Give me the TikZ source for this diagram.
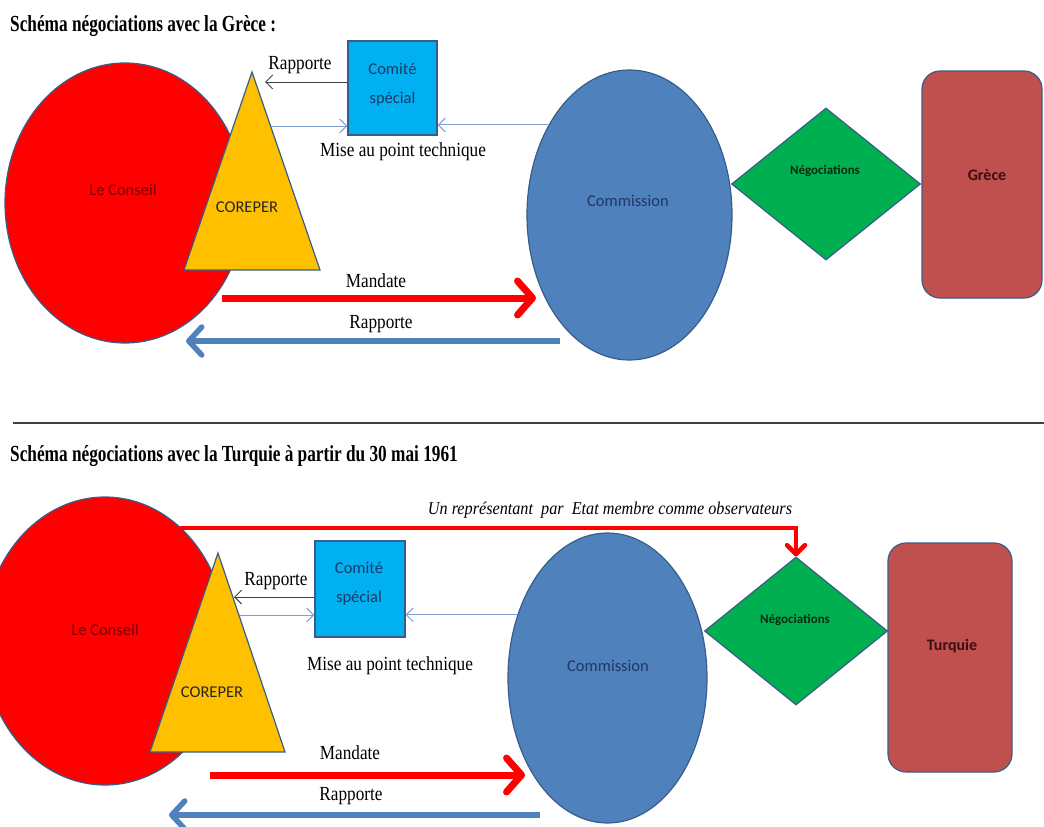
\documentclass[tikz,border=0pt]{standalone}
\usepackage{fontspec}
\setmainfont{Liberation Serif}
\newfontfamily\calfont{Carlito}
\usetikzlibrary{shapes.geometric,arrows.meta}
\definecolor{bordc}{HTML}{385D8A}
\definecolor{conred}{HTML}{FF0000}
\definecolor{corgold}{HTML}{FFC000}
\definecolor{csblue}{HTML}{00B0F0}
\definecolor{comblue}{HTML}{4F81BD}
\definecolor{neggreen}{HTML}{00B050}
\definecolor{paysred}{HTML}{C0504D}
\definecolor{thinblue}{HTML}{7F9FCF}
\definecolor{darkline}{HTML}{404040}
\definecolor{txtred}{HTML}{7A0000}
\definecolor{txtnavy}{HTML}{1F3864}
\definecolor{txtgreen}{HTML}{0A2A10}
\definecolor{txtbrown}{HTML}{3A1010}
\newcommand\sqz[1]{\scalebox{0.86}[1]{#1}}
\newcommand\sqzt[1]{\scalebox{0.75}[1]{#1}}
\begin{document}
\begin{tikzpicture}[x=1pt,y=-1pt,
  shp/.style={draw=bordc,line width=1.2pt},
  ctext/.style={font=\calfont\fontsize{16.5}{29}\selectfont,inner sep=0,align=center},
  lbl/.style={font=\fontsize{20}{24}\selectfont,inner sep=0},
  ttl/.style={font=\bfseries\fontsize{23}{27}\selectfont,inner sep=0,anchor=base west},
  thinarr/.style={line width=1pt,-{Straight Barb[length=7pt,width=14pt]}},
  redarr/.style={line width=7pt,conred,-{Straight Barb[length=15pt,width=34pt,round]}},
  bluearr/.style={line width=5.5pt,comblue,-{Straight Barb[length=13pt,width=28pt,round]}},
]
\useasboundingbox (0,0) rectangle (1044,827);
\clip (0,0) rectangle (1044,827);

% ================= TOP: Grece =================
\node[ttl] (t1) at (10,31) {\sqzt{Schéma négociations avec la Grèce :}};

\node[shp,ellipse,fill=conred,minimum width=240pt,minimum height=280pt,inner sep=0] (con1) at (125,203) {};
\node[ctext,text=txtred] (con1t) at (123,190) {Le Conseil};

\filldraw[shp,fill=corgold] (252,72) coordinate (cor1a) -- (184,270) coordinate (cor1b) -- (320,270) coordinate (cor1c) -- cycle;
\node[ctext,text=black!85] (cor1) at (247,207) {COREPER};

\node[shp,rectangle,fill=csblue,minimum width=89pt,minimum height=94pt,inner sep=0] (cs1) at (392.5,88) {};
\node[ctext,text=txtnavy] (cs1t) at (392.5,85) {Comité\\spécial};

\node[shp,ellipse,fill=comblue,minimum width=205pt,minimum height=290pt,inner sep=0] (com1) at (629.5,215) {};
\node[ctext,text=txtnavy] (com1t) at (628,201) {Commission};

\node[shp,diamond,fill=neggreen,minimum width=189pt,minimum height=152pt,inner sep=0] (neg1) at (826,184) {};
\node[ctext,text=txtgreen,font=\calfont\bfseries\fontsize{13}{15}\selectfont] (neg1t) at (825,171) {Négociations};

\node[shp,rectangle,rounded corners=18pt,fill=paysred,minimum width=120pt,minimum height=227pt,inner sep=0] (gr) at (982,184.5) {};
\node[ctext,text=txtbrown,font=\calfont\bfseries\fontsize{16}{18}\selectfont] (grt) at (987,175) {Grèce};

% connectors top
\coordinate (r1end) at (265,82);
\draw[thinarr,darkline] (cs1.west |- 0,82) -- (r1end);
\node[lbl] (r1l) at (300,65) {\sqz{Rapporte}};

\coordinate (m1a) at (271,126);
\draw[thinarr,thinblue] (m1a) -- (cs1.west |- m1a);
\draw[thinarr,thinblue] (com1.132) -- (com1.132 -| cs1.east);
\node[lbl] (m1l) at (403,152) {\sqz{Mise au point technique}};

\coordinate (man1a) at (222,298);
\draw[redarr] (man1a) -- (536,298);
\node[lbl] (man1l) at (376,281) {\sqz{Mandate}};

\coordinate (rap1a) at (560,341);
\coordinate (rap1b) at (186,341);
\draw[bluearr] (rap1a) -- (rap1b);
\node[lbl] (rap1l) at (381,324) {\sqz{Rapporte}};

% separator
\draw[line width=1.6pt,darkline] (13,423) coordinate (sepa) -- (1044,423) coordinate (sepb);

% ================= BOTTOM: Turquie =================
\node[ttl] (t2) at (10,461) {\sqzt{Schéma négociations avec la Turquie à partir du 30 mai 1961}};

\node[shp,ellipse,fill=conred,minimum width=244pt,minimum height=288pt,inner sep=0] (con2) at (105,641) {};
\node[ctext,text=txtred] (con2t) at (105,630) {Le Conseil};

\filldraw[shp,fill=corgold] (218,553) coordinate (cor2a) -- (150,752) coordinate (cor2b) -- (285,752) coordinate (cor2c) -- cycle;
\node[ctext,text=black!85] (cor2) at (212,692) {COREPER};

\node[shp,rectangle,fill=csblue,minimum width=90pt,minimum height=96pt,inner sep=0] (cs2) at (360,589) {};
\node[ctext,text=txtnavy] (cs2t) at (359,584) {Comité\\spécial};

\node[shp,ellipse,fill=comblue,minimum width=199pt,minimum height=290pt,inner sep=0] (com2) at (607.5,678) {};
\node[ctext,text=txtnavy] (com2t) at (608,666) {Commission};

\node[shp,diamond,fill=neggreen,minimum width=183pt,minimum height=148pt,inner sep=0] (neg2) at (796,631) {};
\node[ctext,text=txtgreen,font=\calfont\bfseries\fontsize{13}{15}\selectfont] (neg2t) at (795,620) {Négociations};

\node[shp,rectangle,rounded corners=18pt,fill=paysred,minimum width=124pt,minimum height=229pt,inner sep=0] (tu) at (950,657.5) {};
\node[ctext,text=txtbrown,font=\calfont\bfseries\fontsize{16}{18}\selectfont] (tut) at (952,646) {Turquie};

% connectors bottom
\coordinate (obsa) at (180,528);
\draw[line width=4.5pt,conred,-{Straight Barb[length=9pt,width=18pt,round]}] (obsa) -- (neg2.north |- obsa) -- (neg2.north);
\node[font=\itshape\fontsize{18}{22}\selectfont,inner sep=0] (obsl) at (610,510) {\scalebox{0.9}[1]{Un représentant\ \ par\ \ Etat membre comme observateurs}};

\coordinate (r2end) at (234,597);
\draw[thinarr,darkline] (cs2.west |- 0,597) -- (r2end);
\node[lbl] (r2l) at (276,581) {\sqz{Rapporte}};

\coordinate (m2a) at (240,615);
\draw[thinarr,thinblue] (m2a) -- (cs2.west |- m2a);
\draw[thinarr,thinblue] (com2.145) -- (com2.145 -| cs2.east);
\node[lbl] (m2l) at (390,666) {\sqz{Mise au point technique}};

\coordinate (man2a) at (210,775);
\draw[redarr] (man2a) -- (525,775);
\node[lbl] (man2l) at (350,753) {\sqz{Mandate}};

\coordinate (rap2a) at (540,815);
\coordinate (rap2b) at (169,815);
\draw[bluearr] (rap2a) -- (rap2b);
\node[lbl] (rap2l) at (351,796) {\sqz{Rapporte}};
\end{tikzpicture}
\end{document}
